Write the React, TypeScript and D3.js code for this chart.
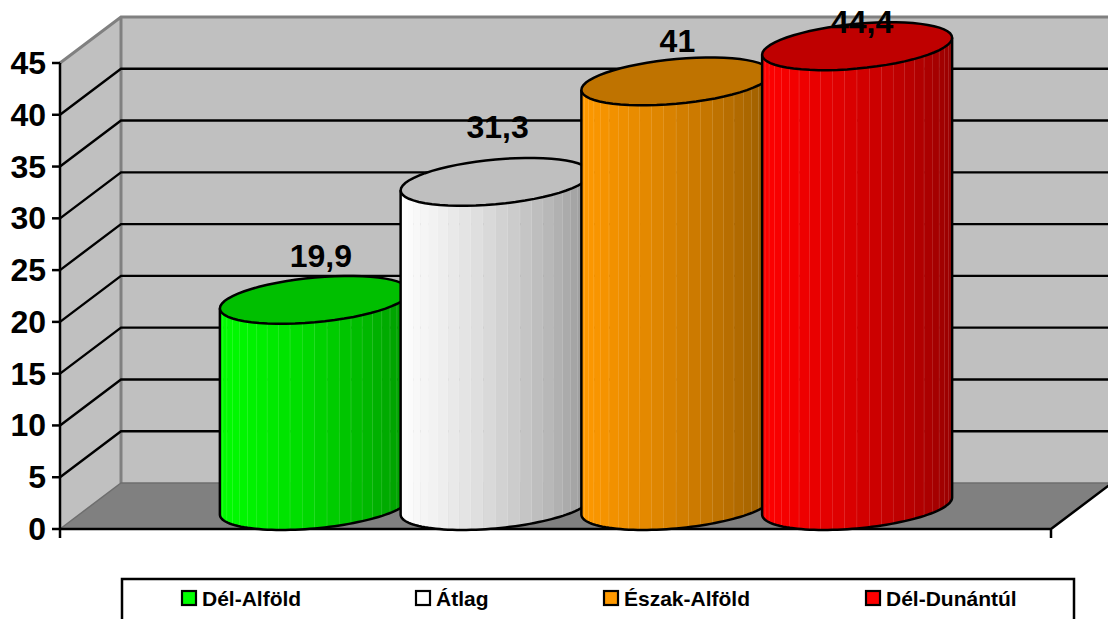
import React from "react";
import * as d3 from "d3";

const categories = ["Dél-Alföld", "Átlag", "Észak-Alföld", "Dél-Dunántúl"];
const values = [19.9, 31.3, 41, 44.4];
const valueLabels = ["19,9", "31,3", "41", "44,4"];
const yTicks = [0, 5, 10, 15, 20, 25, 30, 35, 40, 45];
const sideColors = ["#00ff00", "#ffffff", "#ff9900", "#ff0000"];
const topColors = ["#00bf00", "#bfbfbf", "#bf7300", "#bf0000"];
const labelLift = [33, 44, 29, 13];
const labelShift = [6, 2, 1, 5];
const legendSwatchX = [182, 416, 604, 866];

const W = 1108, H = 619;
const FONT = "'Liberation Sans', Arial, sans-serif";
const x0 = 60, x1 = 1051, dx = 61, dy = 46;
const y = d3.scaleLinear().domain([0, 45]).range([529, 63]);
const band = d3.scaleBand<string>().domain(categories).range([224.5, 947.5]);
const R = 95, tilt = 8.5, minor = 22.4;
const baseY = y(0) - dy / 2;
const facets = d3.range(0, 24);

const ellipse = (cx: number, cy: number, from: number, to: number) =>
  d3.range(0, 61).map((i) => {
    const t = from + ((to - from) * i) / 60;
    return [cx + R * Math.cos(t), cy - tilt * Math.cos(t) + minor * Math.sin(t)] as [number, number];
  });
const line = d3.line();

const shade = (color: string, f: number) => {
  const c = d3.rgb(color);
  return d3.rgb(c.r * f, c.g * f, c.b * f).formatHex();
};
const factor = (t: number) => 1 - 0.3 * t - 0.1 * t * t * t;

export default function App() {
  return (
    <svg width={W} height={H} viewBox={`0 0 ${W} ${H}`} style={{ position: "absolute", left: 0, top: 0, background: "#fff" }} fontFamily={FONT}>
      <defs>
        {categories.map((c, i) => {
          const cx = band(c)! + band.bandwidth() / 2;
          const topY = baseY - (y(0) - y(values[i]));
          const lower = ellipse(cx, baseY, Math.PI, 0);
          return <clipPath id={`body${i}`} key={c}><path d={`M${cx - R},${topY + tilt}L${cx - R},${baseY + tilt}${line(lower)!.replace("M", "L")}L${cx + R},${topY - tilt}Z`} /></clipPath>;
        })}
      </defs>

      {/* walls and floor */}
      <polygon points={`${x0 + dx},${y(45) - dy} ${W + 10},${y(45) - dy} ${W + 10},${y(0) - dy} ${x0 + dx},${y(0) - dy}`} fill="#c0c0c0" />
      <polygon points={`${x0},${y(45)} ${x0 + dx},${y(45) - dy} ${x0 + dx},${y(0) - dy} ${x0},${y(0)}`} fill="#c0c0c0" />
      <polygon points={`${x0},${y(0)} ${x0 + dx},${y(0) - dy} ${x1 + dx},${y(0) - dy} ${x1},${y(0)}`} fill="#808080" />
      <path d={`M${x0},${y(45)}L${x0 + dx},${y(45) - dy}L${W + 10},${y(45) - dy}M${x0 + dx},${y(45) - dy}L${x0 + dx},${y(0) - dy}`} fill="none" stroke="#808080" strokeWidth={3} />
      <path d={`M${x0},${y(0)}L${x0 + dx},${y(0) - dy}L${x1 + dx},${y(0) - dy}`} fill="none" stroke="#6e6e6e" strokeWidth={1.5} />

      {/* gridlines */}
      {yTicks.filter((t) => t > 0 && t < 45).map((t) => (
        <path key={t} d={`M${x0},${y(t)}L${x0 + dx},${y(t) - dy}L${W + 10},${y(t) - dy}`} fill="none" stroke="#000" strokeWidth={2.4} />
      ))}

      {/* axes */}
      <path d={`M${x0},${y(45)}L${x0},${y(0) + 9}M${x0},${y(0)}L${x1},${y(0)}L${x1 + dx},${y(0) - dy}M${x1},${y(0)}L${x1},${y(0) + 9}`} fill="none" stroke="#000" strokeWidth={2.5} />
      {yTicks.map((t) => (
        <g key={t}>
          <line x1={x0 - 8} x2={x0} y1={y(t)} y2={y(t)} stroke="#000" strokeWidth={2.5} />
          <text x={x0 - 14} y={y(t) + 11} textAnchor="end" fontSize={32} fontWeight={700} fill="#000">{t}</text>
        </g>
      ))}

      {/* cylinders */}
      {categories.map((c, i) => {
        const cx = band(c)! + band.bandwidth() / 2;
        const topY = baseY - (y(0) - y(values[i]));
        const lower = ellipse(cx, baseY, Math.PI, 0);
        const top = ellipse(cx, topY, 0, 2 * Math.PI);
        return (
          <g key={c}>
            <g clipPath={`url(#body${i})`}>
              {facets.map((k) => {
                const a = -Math.PI / 2 + (Math.PI * k) / facets.length;
                const b = -Math.PI / 2 + (Math.PI * (k + 1)) / facets.length;
                const xa = cx + R * Math.sin(a), xb = cx + R * Math.sin(b);
                const t = (xa + xb - 2 * cx + 2 * R) / (4 * R);
                const col = shade(sideColors[i], factor(t));
                return (
                  <g key={k}>
                    <rect x={xa} y={topY - 40} width={xb - xa + 0.5} height={baseY - topY + 90} fill={col} />
                    <line x1={xb} x2={xb} y1={topY - 40} y2={baseY + 50} stroke="#ffffff" strokeOpacity={0.28} strokeWidth={0.9} />
                  </g>
                );
              })}
            </g>
            <path d={`M${cx - R},${topY + tilt}L${cx - R},${baseY + tilt}${line(lower)!.replace("M", "L")}L${cx + R},${topY - tilt}`} fill="none" stroke="#000" strokeWidth={2.5} strokeLinejoin="round" />
            <path d={line(top)! + "Z"} fill={topColors[i]} stroke="#000" strokeWidth={2.5} />
          </g>
        );
      })}

      {/* value labels */}
      {categories.map((c, i) => {
        const cx = band(c)! + band.bandwidth() / 2;
        const topY = baseY - (y(0) - y(values[i]));
        return <text key={c} x={cx + labelShift[i]} y={topY - labelLift[i]} textAnchor="middle" fontSize={32} fontWeight={700} fill="#000">{valueLabels[i]}</text>;
      })}

      {/* legend */}
      <rect x={122} y={579} width={952} height={60} fill="#fff" stroke="#000" strokeWidth={2.5} />
      {categories.map((c, i) => (
        <g key={c}>
          <rect x={legendSwatchX[i]} y={591} width={14} height={14} fill={sideColors[i]} stroke="#000" strokeWidth={2.2} />
          <text x={legendSwatchX[i] + 20} y={606} fontSize={21} fontWeight={700} fill="#000">{c}</text>
        </g>
      ))}
    </svg>
  );
}
